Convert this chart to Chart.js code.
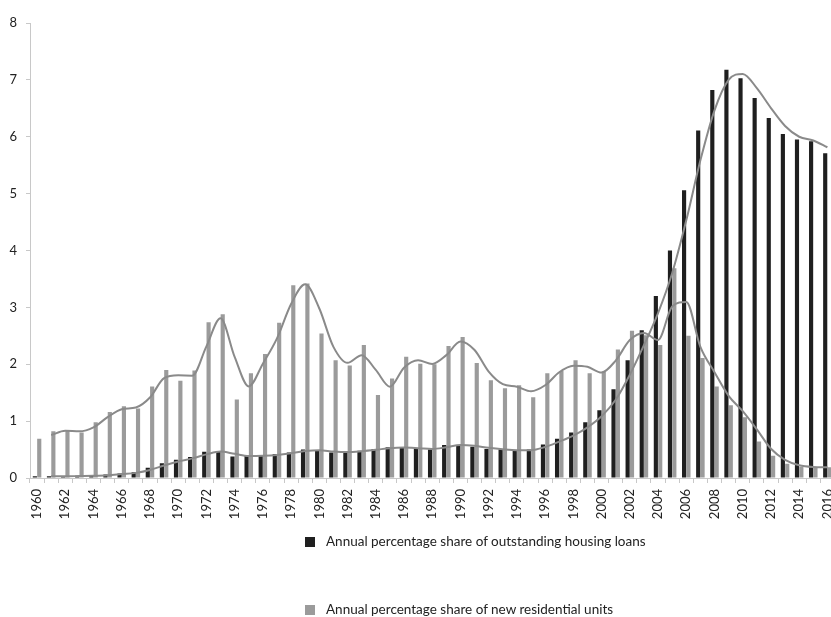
<!DOCTYPE html>
<html>
<head>
<meta charset="utf-8">
<script src="https://cdn.jsdelivr.net/npm/chart.js@4"></script>
<style>
  body { margin: 0; background: #fff; }
  #wrap { position: relative; width: 831px; height: 617px; overflow: hidden; }
  .leg { position: absolute; left: 305px; font: 13.5px Lato, sans-serif; color: #222; white-space: nowrap; }
  .leg span { display: inline-block; width: 10px; height: 10px; margin-right: 11px; vertical-align: -1px; }
</style>
</head>
<body>
<div id="wrap">
  <canvas id="chart" width="849" height="617"></canvas>
  <div class="leg" style="top:533px"><span style="background:#1f1f1f"></span>Annual percentage share of outstanding housing loans</div>
  <div class="leg" style="top:601px"><span style="background:#9b9b9b"></span>Annual percentage share of new residential units</div>
</div>
<script>
const years = ['1960','1961','1962','1963','1964','1965','1966','1967','1968','1969',
    '1970','1971','1972','1973','1974','1975','1976','1977','1978','1979',
    '1980','1981','1982','1983','1984','1985','1986','1987','1988','1989',
    '1990','1991','1992','1993','1994','1995','1996','1997','1998','1999',
    '2000','2001','2002','2003','2004','2005','2006','2007','2008','2009',
    '2010','2011','2012','2013','2014','2015','2016'];

// share of outstanding housing loans (black bars)
const loans = [0.03, 0.03, 0.03, 0.04, 0.04, 0.06, 0.08, 0.10, 0.18, 0.26,
    0.32, 0.37, 0.46, 0.47, 0.38, 0.39, 0.39, 0.42, 0.45, 0.50,
    0.48, 0.45, 0.46, 0.48, 0.51, 0.54, 0.53, 0.52, 0.50, 0.58,
    0.58, 0.55, 0.51, 0.50, 0.48, 0.50, 0.59, 0.69, 0.80, 0.98,
    1.19, 1.56, 2.07, 2.60, 3.20, 4.00, 5.06, 6.11, 6.82, 7.18,
    7.03, 6.68, 6.33, 6.05, 5.95, 5.92, 5.71];

// share of new residential units (grey bars)
const units = [0.69, 0.82, 0.84, 0.80, 0.98, 1.16, 1.26, 1.22, 1.61, 1.90,
    1.71, 1.89, 2.74, 2.88, 1.38, 1.84, 2.18, 2.73, 3.39, 3.42,
    2.54, 2.07, 1.98, 2.34, 1.46, 1.75, 2.13, 2.01, 2.00, 2.32,
    2.48, 2.02, 1.72, 1.58, 1.63, 1.42, 1.84, 1.88, 2.07, 1.84,
    1.87, 2.26, 2.59, 2.51, 2.34, 3.69, 2.50, 2.11, 1.61, 1.28,
    1.07, 0.64, 0.39, 0.25, 0.20, 0.19, 0.19];

const yTicks = [0, 1, 2, 3, 4, 5, 6, 7, 8];

// 2-period moving average trendline, as in the original
function movingAvg(arr) {
    return arr.map((v, i) => i === 0 ? null : (arr[i - 1] + v) / 2);
}

const tickFont = { family: 'Lato, sans-serif', size: 13 };
const axisColor = '#c8c8c8';

new Chart(document.getElementById('chart').getContext('2d'), {
    type: 'bar',
    data: {
        labels: years,
        datasets: [
            {
                type: 'line',
                data: movingAvg(loans),
                borderColor: '#8a8a8a',
                borderWidth: 2,
                pointRadius: 0,
                cubicInterpolationMode: 'monotone',
                order: 0
            },
            {
                type: 'line',
                data: movingAvg(units),
                borderColor: '#8a8a8a',
                borderWidth: 2,
                pointRadius: 0,
                cubicInterpolationMode: 'monotone',
                order: 0
            },
            {
                label: 'Annual percentage share of outstanding housing loans',
                data: loans,
                backgroundColor: '#1f1f1f',
                categoryPercentage: 0.62,
                barPercentage: 0.95,
                order: 1
            },
            {
                label: 'Annual percentage share of new residential units',
                data: units,
                backgroundColor: '#9b9b9b',
                categoryPercentage: 0.62,
                barPercentage: 0.95,
                order: 1
            }
        ]
    },
    options: {
        responsive: false,
        animation: false,
        layout: { padding: { top: 23, left: 0, right: 0, bottom: 0 } },
        plugins: {
            legend: { display: false },
            tooltip: { enabled: false }
        },
        scales: {
            x: {
                grid: { display: true, drawOnChartArea: false, offset: true, color: axisColor, tickLength: 5 },
                border: { color: axisColor },
                ticks: {
                    autoSkip: false,
                    minRotation: 90,
                    maxRotation: 90,
                    padding: 6,
                    color: '#222',
                    font: { family: 'Lato, sans-serif', size: 13 },
                    callback: (v, i) => i % 2 === 0 ? years[i] : ''
                },
                afterFit: s => { s.height = 139; }
            },
            y: {
                min: 0,
                max: 8,
                afterBuildTicks: s => { s.ticks = yTicks.map(v => ({ value: v })); },
                grid: { display: true, drawOnChartArea: false, color: axisColor, tickLength: 4 },
                border: { color: axisColor },
                ticks: { padding: 9, color: '#222', font: tickFont },
                afterFit: s => { s.width = 30; }
            }
        }
    }
});
</script>
</body>
</html>
